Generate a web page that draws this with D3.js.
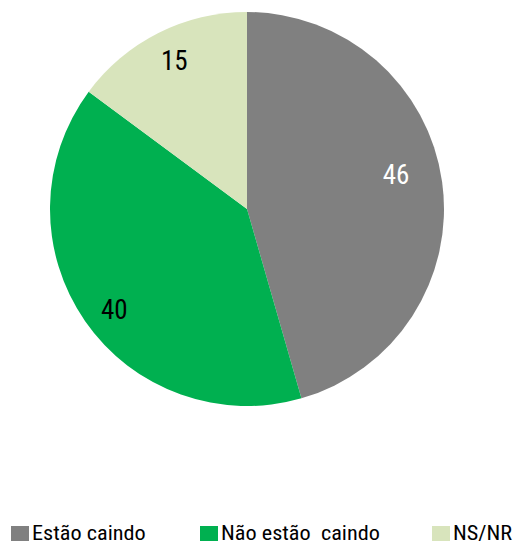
<!DOCTYPE html>
<html>
<head>
<meta charset="utf-8">
<script src="https://cdn.jsdelivr.net/npm/d3@7"></script>
<style>
  html, body { margin: 0; padding: 0; background: #fff; }
  svg { display: block; }
  text { font-family: "Liberation Sans Narrow", "Roboto Condensed", "DejaVu Sans Condensed", sans-serif; }
</style>
</head>
<body>
<svg id="chart" width="519" height="545"></svg>
<script>
const categories = ["Estão caindo", "Não estão  caindo", "NS/NR"];
const values = [46, 40, 15];
const colors = ["#808080", "#00b050", "#d8e4bc"];
const labelColors = ["#ffffff", "#000000", "#000000"];

const svg = d3.select("#chart");
const cx = 247, cy = 209, r = 197;

const pie = d3.pie().sort(null).value(d => d.value);
const arcs = pie(categories.map((c, i) => ({ name: c, value: values[i], i })));
const arc = d3.arc().innerRadius(0).outerRadius(r);
const labelArc = d3.arc().innerRadius(r * 0.82).outerRadius(r * 0.82);
// small hand adjustments so each value sits clear of the slice edges
const labelNudge = [[-11, -12], [0, 8], [0, -4]];

const g = svg.append("g").attr("transform", `translate(${cx},${cy})`);
g.selectAll("path").data(arcs).join("path")
  .attr("d", arc)
  .attr("fill", d => colors[d.data.i]);

g.selectAll("text").data(arcs).join("text")
  .attr("transform", d => {
    const [x, y] = labelArc.centroid(d);
    const [nx, ny] = labelNudge[d.data.i];
    return `translate(${x + nx},${y + ny})`;
  })
  .attr("text-anchor", "middle")
  .attr("dy", "0.36em")
  .attr("font-size", 27)
  .attr("fill", d => labelColors[d.data.i])
  .text(d => d.data.value);

// Legend: swatch plus a slightly widened label
const legendX = [11, 200, 432];
const leg = svg.append("g");
categories.forEach((c, i) => {
  leg.append("rect").attr("x", legendX[i]).attr("y", 526).attr("width", 18).attr("height", 15).attr("fill", colors[i]);
  leg.append("text")
    .attr("transform", `translate(${legendX[i] + 21},540) scale(1.06,1)`)
    .attr("font-size", 21).attr("fill", "#000")
    .style("white-space", "pre")
    .text(c);
});
</script>
</body>
</html>
